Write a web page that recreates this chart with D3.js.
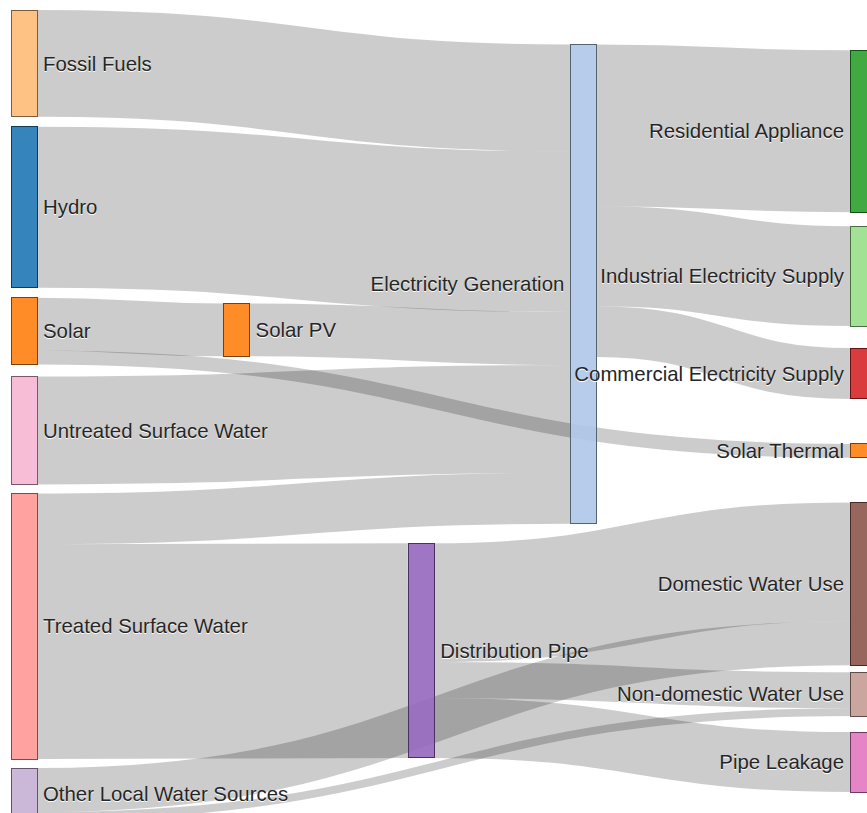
<!DOCTYPE html>
<html>
<head>
<meta charset="utf-8">
<script src="https://cdn.jsdelivr.net/npm/d3@7"></script>
<style>
    body { margin: 0; overflow: hidden; background: #fff; }
    .node rect { fill-opacity: .9; shape-rendering: crispEdges; }
    .node text { font-family: "Liberation Sans", Arial, sans-serif; font-size: 20.4px; fill: #262626; text-shadow: 0 1px 0 #fff; }
    .link { fill: none; stroke: #000; stroke-opacity: .2; }
</style>
</head>
<body>
<div id="main"></div>
<script>
var WIDTH = 888
var HEIGHT = 830
var NODE_WIDTH = 26
var NODE_PADDING = 10
var ITERATIONS = 32

var nodeNames = [
    "Fossil Fuels", "Hydro", "Solar", "Untreated Surface Water", "Treated Surface Water",
    "Other Local Water Sources", "Solar PV", "Distribution Pipe", "Electricity Generation",
    "Residential Appliance", "Industrial Electricity Supply", "Commercial Electricity Supply",
    "Solar Thermal", "Domestic Water Use", "Non-domestic Water Use", "Pipe Leakage"
]

var linkSources = [
    "Fossil Fuels", "Hydro", "Solar", "Solar", "Solar PV", "Untreated Surface Water",
    "Treated Surface Water", "Treated Surface Water", "Other Local Water Sources", "Other Local Water Sources",
    "Electricity Generation", "Electricity Generation", "Electricity Generation",
    "Distribution Pipe", "Distribution Pipe", "Distribution Pipe"
]
var linkTargets = [
    "Electricity Generation", "Electricity Generation", "Solar PV", "Solar Thermal", "Electricity Generation",
    "Electricity Generation", "Electricity Generation", "Distribution Pipe", "Domestic Water Use",
    "Non-domestic Water Use", "Residential Appliance", "Industrial Electricity Supply",
    "Commercial Electricity Supply", "Domestic Water Use", "Non-domestic Water Use", "Pipe Leakage"
]
var linkValues = [107, 161, 53, 14, 53, 108, 51, 215, 44, 8, 162, 100, 51, 119, 36, 60]

// layout tweaks: the original was arranged by dragging nodes after the automatic layout
// column slot of each node, and vertical drag in value units
var nodeColumns = [0, 0, 0, 0, 0, 0, 0.76, 1.42, 2, 3, 3, 3, 3, 3, 3, 3]
var nodeDrag = [0, 0, 0, 2, 1, 0, 12, -8, 17, 38, 42, 54, 89, -31, -34, -28]

// category20 colours, keyed on the first word of the node name
var palette = ["#1f77b4", "#aec7e8", "#ff7f0e", "#ffbb78", "#2ca02c", "#98df8a", "#d62728", "#ff9896",
    "#9467bd", "#c5b0d5", "#8c564b", "#c49c94", "#e377c2", "#f7b6d2"]
var colorKeys = ["Hydro", "Electricity", "Solar", "Fossil", "Residential", "Industrial", "Commercial",
    "Treated", "Distribution", "Other", "Domestic", "Non-domestic", "Pipe", "Untreated"]
var color = d3.scaleOrdinal().domain(colorKeys).range(palette)

var X0 = 11, Y0 = 10, X1 = 850, Y1 = 820

// ---- build graph
var nodes = nodeNames.map((name, i) => ({ index: i, name: name, column: nodeColumns[i], drag: nodeDrag[i], sourceLinks: [], targetLinks: [] }))
var byName = new Map(nodes.map(n => [n.name, n]))
var links = linkValues.map((v, i) => {
    var l = { index: i, source: byName.get(linkSources[i]), target: byName.get(linkTargets[i]), value: v }
    l.source.sourceLinks.push(l)
    l.target.targetLinks.push(l)
    return l
})
nodes.forEach(n => {
    n.value = Math.max(d3.sum(n.sourceLinks, l => l.value), d3.sum(n.targetLinks, l => l.value))
})

// ---- depth + justify into layers
var current = new Set(nodes), next = new Set(), depth = 0
while (current.size) {
    for (const node of current) {
        node.depth = depth
        for (const l of node.sourceLinks) next.add(l.target)
    }
    depth++
    current = next
    next = new Set()
}
var nLayers = depth
var columns = d3.range(nLayers).map(() => [])
nodes.forEach(n => {
    n.layer = n.sourceLinks.length ? n.depth : nLayers - 1
    columns[n.layer].push(n)
})

var xScale = d3.scaleLinear().domain([0, nLayers - 1]).range([X0, X1])
var py = Math.min(NODE_PADDING, (Y1 - Y0) / (d3.max(columns, c => c.length) - 1))
var maxSum = d3.max(columns, c => d3.sum(c, n => n.value) * (Y1 - Y0) / (Y1 - Y0 - (c.length - 1) * py))
var yScale = d3.scaleLinear().domain([0, maxSum]).range([0, Y1 - Y0])

function ascendingBreadth(a, b) { return a.y0 - b.y0 }
function ascSource(a, b) { return ascendingBreadth(a.source, b.source) || a.index - b.index }
function ascTarget(a, b) { return ascendingBreadth(a.target, b.target) || a.index - b.index }

function reorderLinks(ns) {
    ns.forEach(n => { n.sourceLinks.sort(ascTarget); n.targetLinks.sort(ascSource) })
}
function reorderNodeLinks(n) {
    n.targetLinks.forEach(l => l.source.sourceLinks.sort(ascTarget))
    n.sourceLinks.forEach(l => l.target.targetLinks.sort(ascSource))
}

// initial placement
columns.forEach(col => {
    var y = Y0
    col.forEach(n => {
        n.y0 = y
        n.y1 = y + yScale(n.value)
        y = n.y1 + py
        n.sourceLinks.forEach(l => l.width = yScale(l.value))
    })
    var extra = (Y1 - y + py) / (col.length + 1)
    col.forEach((n, i) => { n.y0 += extra * (i + 1); n.y1 += extra * (i + 1) })
    reorderLinks(col)
})

function targetTop(source, target) {
    var y = source.y0 - (source.sourceLinks.length - 1) * py / 2
    for (const l of source.sourceLinks) { if (l.target === target) break; y += l.width + py }
    for (const l of target.targetLinks) { if (l.source === source) break; y -= l.width }
    return y
}
function sourceTop(source, target) {
    var y = target.y0 - (target.targetLinks.length - 1) * py / 2
    for (const l of target.targetLinks) { if (l.source === source) break; y += l.width + py }
    for (const l of source.sourceLinks) { if (l.target === target) break; y -= l.width }
    return y
}

function collideDown(ns, y, i, alpha) {
    for (; i < ns.length; ++i) {
        var n = ns[i], dy = (y - n.y0) * alpha
        if (dy > 1e-6) { n.y0 += dy; n.y1 += dy }
        y = n.y1 + py
    }
}
function collideUp(ns, y, i, alpha) {
    for (; i >= 0; --i) {
        var n = ns[i], dy = (n.y1 - y) * alpha
        if (dy > 1e-6) { n.y0 -= dy; n.y1 -= dy }
        y = n.y0 - py
    }
}
function resolveCollisions(ns, alpha) {
    var i = ns.length >> 1, s = ns[i]
    collideUp(ns, s.y0 - py, i - 1, alpha)
    collideDown(ns, s.y1 + py, i + 1, alpha)
    collideUp(ns, Y1, ns.length - 1, alpha)
    collideDown(ns, Y0, 0, alpha)
}

for (var it = 0; it < ITERATIONS; it++) {
    var alpha = Math.pow(0.99, it)
    var beta = Math.max(1 - alpha, (it + 1) / ITERATIONS)
    // right to left
    for (var c = columns.length - 2; c >= 0; c--) {
        columns[c].forEach(src => {
            var y = 0, w = 0
            src.sourceLinks.forEach(l => {
                var v = l.value * (l.target.layer - src.layer)
                y += sourceTop(src, l.target) * v
                w += v
            })
            if (!(w > 0)) return
            var dy = (y / w - src.y0) * alpha
            src.y0 += dy; src.y1 += dy
            reorderNodeLinks(src)
        })
        columns[c].sort(ascendingBreadth)
        resolveCollisions(columns[c], beta)
    }
    // left to right
    for (var c = 1; c < columns.length; c++) {
        columns[c].forEach(tgt => {
            var y = 0, w = 0
            tgt.targetLinks.forEach(l => {
                var v = l.value * (tgt.layer - l.source.layer)
                y += targetTop(l.source, tgt) * v
                w += v
            })
            if (!(w > 0)) return
            var dy = (y / w - tgt.y0) * alpha
            tgt.y0 += dy; tgt.y1 += dy
            reorderNodeLinks(tgt)
        })
        columns[c].sort(ascendingBreadth)
        resolveCollisions(columns[c], beta)
    }
}

// apply the manual drags, then place the link ends
nodes.forEach(n => {
    var dy = yScale(n.drag)
    n.y0 += dy
    n.y1 += dy
    n.x0 = xScale(n.column)
    n.x1 = n.x0 + NODE_WIDTH
})
reorderLinks(nodes)
nodes.forEach(n => {
    var ys = n.y0, yt = n.y0
    n.sourceLinks.forEach(l => { l.y0 = ys + l.width / 2; ys += l.width })
    n.targetLinks.forEach(l => { l.y1 = yt + l.width / 2; yt += l.width })
})

// ---- draw
const svg = d3.select('#main').append('svg')
    .attr('width', WIDTH)
    .attr('height', HEIGHT)

var linkPath = d3.linkHorizontal()
    .source(d => [d.source.x1, d.y0])
    .target(d => [d.target.x0, d.y1])

svg.append('g').selectAll('path')
    .data(links)
    .enter()
    .append('path')
    .attr('class', 'link')
    .attr('d', linkPath)
    .attr('stroke-width', d => Math.max(1, d.width))

var node = svg.append('g').selectAll('.node')
    .data(nodes)
    .enter()
    .append('g')
    .attr('class', 'node')

node.append('rect')
    .attr('x', d => d.x0)
    .attr('y', d => d.y0)
    .attr('width', NODE_WIDTH)
    .attr('height', d => d.y1 - d.y0)
    .attr('fill', d => color(d.name.replace(/ .*/, '')))
    .attr('stroke', d => d3.rgb(color(d.name.replace(/ .*/, ''))).darker(2))

node.append('text')
    .attr('x', d => d.x0 < WIDTH / 2 ? d.x1 + 6 : d.x0 - 6)
    .attr('y', d => (d.y0 + d.y1) / 2)
    .attr('dy', '.35em')
    .attr('text-anchor', d => d.x0 < WIDTH / 2 ? 'start' : 'end')
    .text(d => d.name)
</script>
</body>
</html>
